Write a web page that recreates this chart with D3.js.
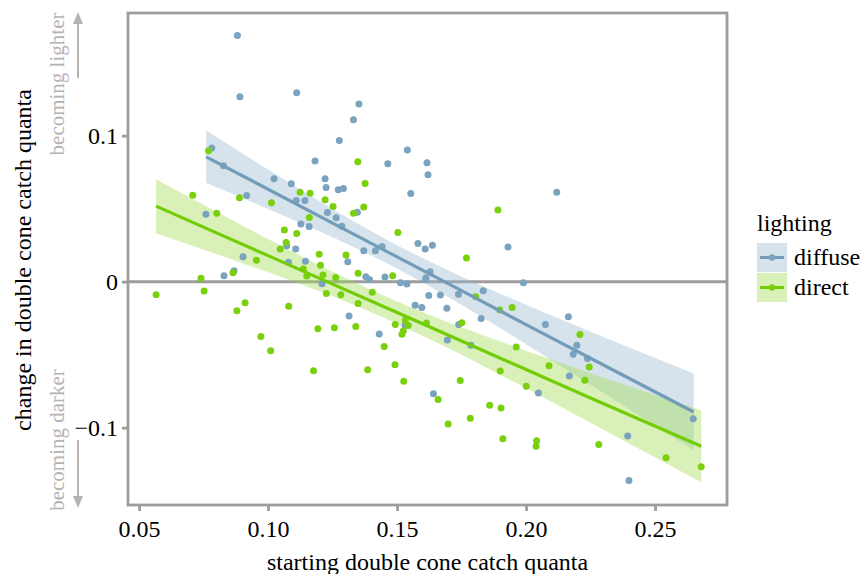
<!DOCTYPE html>
<html>
<head>
<meta charset="utf-8">
<script src="https://cdn.jsdelivr.net/npm/d3@7"></script>
<style>
  body { margin: 0; background: #fff; }
  text { font-family: "Liberation Serif", "Times New Roman", serif; }
</style>
</head>
<body>
<svg id="chart" width="861" height="574"></svg>
<script>
// data: [starting quanta, change in quanta]
var diffusePts = [
  [0.0881,0.1686],[0.0891,0.1266],[0.1111,0.1293],[0.1352,0.1216],[0.1331,0.1108],[0.1276,0.0967],
  [0.1540,0.0901],[0.1616,0.0814],[0.1620,0.0732],[0.1464,0.0807],[0.1182,0.0827],[0.0782,0.0916],
  [0.0827,0.0793],[0.1023,0.0704],[0.1090,0.0670],[0.1221,0.0704],[0.1225,0.0645],[0.1272,0.0629],
  [0.1292,0.0638],[0.0917,0.0590],[0.1109,0.0556],[0.1143,0.0556],[0.1553,0.0604],[0.0759,0.0462],
  [0.1230,0.0474],[0.1264,0.0437],[0.1346,0.0476],[0.1127,0.0394],[0.1159,0.0378],[0.1286,0.0380],
  [0.1442,0.0241],[0.1416,0.0211],[0.1371,0.0211],[0.1581,0.0262],[0.1609,0.0223],[0.1072,0.0245],
  [0.1107,0.0223],[0.0903,0.0170],[0.1079,0.0132],[0.1145,0.0140],[0.1309,0.0136],[0.0868,0.0074],
  [0.0829,0.0040],[0.1209,-0.0015],[0.1379,0.0033],[0.1393,0.0015],[0.1453,0.0031],[0.1513,-0.0008],
  [0.1538,-0.0017],[0.1611,0.0015],[0.1623,-0.0095],[0.1570,-0.0161],[0.1596,-0.0177],[0.1314,-0.0236],
  [0.1431,-0.0358],[0.1531,-0.0298],[0.2119,0.0613],[0.1637,0.0250],[0.1930,0.0238],[0.1628,0.0067],
  [0.1612,0.0026],[0.1990,-0.0008],[0.1834,-0.0063],[0.1668,-0.0092],[0.1738,-0.0086],[0.1693,-0.0182],
  [0.1826,-0.0252],[0.1739,-0.0293],[0.1695,-0.0399],[0.1786,-0.0435],[0.2164,-0.0241],[0.2075,-0.0293],
  [0.2197,-0.0435],[0.2183,-0.0497],[0.2238,-0.0526],[0.2168,-0.0647],[0.2048,-0.0762],[0.1641,-0.0768],
  [0.2394,-0.1058],[0.2648,-0.0940],[0.2399,-0.1362]
];
var directPts = [
  [0.0769,0.0896],[0.1348,0.0821],[0.1376,0.0673],[0.0708,0.0592],[0.0889,0.0574],[0.1013,0.0540],
  [0.1124,0.0613],[0.1163,0.0606],[0.1221,0.0560],[0.1252,0.0515],[0.1371,0.0512],[0.1331,0.0469],
  [0.0801,0.0469],[0.1160,0.0440],[0.1503,0.0337],[0.1063,0.0353],[0.1111,0.0330],[0.1070,0.0268],
  [0.1047,0.0223],[0.1198,0.0188],[0.1302,0.0182],[0.0955,0.0147],[0.1203,0.0113],[0.1137,0.0086],
  [0.1150,0.0038],[0.1213,0.0045],[0.1262,0.0029],[0.1349,0.0058],[0.1483,0.0040],[0.0864,0.0060],
  [0.0740,0.0024],[0.0566,-0.0090],[0.0752,-0.0065],[0.0911,-0.0145],[0.0879,-0.0200],[0.1080,-0.0168],
  [0.1226,-0.0081],[0.1282,-0.0090],[0.1404,-0.0072],[0.1349,-0.0149],[0.1493,-0.0293],[0.1532,-0.0264],
  [0.1543,-0.0300],[0.1524,-0.0339],[0.1519,-0.0360],[0.1614,-0.0284],[0.1193,-0.0323],[0.1257,-0.0316],
  [0.1340,-0.0307],[0.0972,-0.0375],[0.1010,-0.0474],[0.1450,-0.0444],[0.1492,-0.0570],[0.1176,-0.0611],
  [0.1386,-0.0604],[0.1526,-0.0682],[0.1891,0.0490],[0.1769,0.0161],[0.1805,-0.0104],[0.1898,-0.0195],
  [0.1946,-0.0177],[0.1751,-0.0282],[0.1962,-0.0447],[0.2209,-0.0362],[0.2245,-0.0584],[0.2089,-0.0577],
  [0.2228,-0.0675],[0.1900,-0.0613],[0.2001,-0.0716],[0.1745,-0.0677],[0.1659,-0.0807],[0.1859,-0.0846],
  [0.1903,-0.0866],[0.1784,-0.0935],[0.1698,-0.0976],[0.1910,-0.1077],[0.2041,-0.1090],[0.2039,-0.1127],
  [0.2282,-0.1115],[0.2543,-0.1207],[0.2679,-0.1268]
];

// fitted lines and confidence bands, read at a few x positions
var diffuseFitX  = [0.076, 0.100, 0.125, 0.150, 0.175, 0.200, 0.225, 0.265];
var diffuseFit   = [0.0855, 0.0633, 0.0401, 0.0170, -0.0062, -0.0294, -0.0525, -0.0893];
var diffuseLower = [0.0675, 0.0498, 0.0304, 0.0090, -0.0159, -0.0429, -0.0707, -0.1156];
var diffuseUpper = [0.1035, 0.0768, 0.0498, 0.0250, 0.0035, -0.0159, -0.0343, -0.0630];

var directFitX  = [0.0566, 0.080, 0.100, 0.125, 0.150, 0.175, 0.200, 0.225, 0.2679];
var directFit   = [0.0517, 0.0334, 0.0178, -0.0017, -0.0212, -0.0407, -0.0602, -0.0797, -0.1128];
var directLower = [0.0332, 0.0189, 0.0064, -0.0101, -0.0288, -0.0501, -0.0731, -0.0967, -0.1375];
var directUpper = [0.0702, 0.0479, 0.0292, 0.0067, -0.0136, -0.0313, -0.0473, -0.0627, -0.0881];

var xTicks = [0.05, 0.10, 0.15, 0.20, 0.25];
var yTicks = [-0.1, 0, 0.1];
var yTickLabels = ["\u22120.1", "0", "0.1"];
var groups = ["diffuse", "direct"];

var colPt   = {diffuse: "#7aa3bf", direct: "#7bd00e"};
var colLine = {diffuse: "#729cb8", direct: "#72cc06"};
var colBand = {diffuse: "#98b9cf", direct: "#a0dc4e"};

var svg = d3.select("#chart");
var margin = {top: 13, right: 134, bottom: 69, left: 128};
var W = 861, H = 574;

var x = d3.scaleLinear().domain([0.0457, 0.2779]).range([margin.left, W - margin.right]);
var y = d3.scaleLinear().domain([-0.153, 0.184]).range([H - margin.bottom, margin.top]);

var grey = "#9d9d9d";

// zero line
svg.append("line")
  .attr("x1", x.range()[0]).attr("x2", x.range()[1])
  .attr("y1", y(0)).attr("y2", y(0))
  .attr("stroke", grey).attr("stroke-width", 3);

function bandData(xs, lo, hi) {
  return xs.map(function(d, i) { return {x: d, lo: lo[i], hi: hi[i]}; });
}
var area = d3.area().curve(d3.curveMonotoneX)
  .x(function(d) { return x(d.x); })
  .y0(function(d) { return y(d.lo); })
  .y1(function(d) { return y(d.hi); });
var line = d3.line()
  .x(function(d) { return x(d[0]); })
  .y(function(d) { return y(d[1]); });

svg.append("path").datum(bandData(diffuseFitX, diffuseLower, diffuseUpper))
  .attr("d", area).attr("fill", colBand.diffuse).attr("fill-opacity", 0.4);
svg.append("path").datum(bandData(directFitX, directLower, directUpper))
  .attr("d", area).attr("fill", colBand.direct).attr("fill-opacity", 0.4);

// points
svg.append("g").selectAll("circle").data(diffusePts).enter().append("circle")
  .attr("cx", function(d) { return x(d[0]); })
  .attr("cy", function(d) { return y(d[1]); })
  .attr("r", 3.5).attr("fill", colPt.diffuse);
svg.append("g").selectAll("circle").data(directPts).enter().append("circle")
  .attr("cx", function(d) { return x(d[0]); })
  .attr("cy", function(d) { return y(d[1]); })
  .attr("r", 3.5).attr("fill", colPt.direct);

// fit lines
svg.append("path").datum(d3.zip(diffuseFitX, diffuseFit))
  .attr("d", line).attr("fill", "none").attr("stroke", colLine.diffuse).attr("stroke-width", 3.2);
svg.append("path").datum(d3.zip(directFitX, directFit))
  .attr("d", line).attr("fill", "none").attr("stroke", colLine.direct).attr("stroke-width", 3.2);

// panel border
svg.append("rect")
  .attr("x", x.range()[0]).attr("y", y.range()[1])
  .attr("width", x.range()[1] - x.range()[0])
  .attr("height", y.range()[0] - y.range()[1])
  .attr("fill", "none").attr("stroke", grey).attr("stroke-width", 2.8);

// axes
var xAxis = svg.append("g")
  .attr("transform", "translate(0," + y.range()[0] + ")")
  .call(d3.axisBottom(x).tickValues(xTicks).tickFormat(d3.format(".2f")).tickSize(6).tickPadding(9));
var yAxis = svg.append("g")
  .attr("transform", "translate(" + x.range()[0] + ",0)")
  .call(d3.axisLeft(y).tickValues(yTicks).tickFormat(function(d, i) { return yTickLabels[i]; }).tickSize(6).tickPadding(4));
[xAxis, yAxis].forEach(function(g) {
  g.select(".domain").remove();
  g.selectAll(".tick line").attr("stroke", grey).attr("stroke-width", 2.8);
  g.selectAll(".tick text").attr("fill", "#000").style("font-size", "24px")
    .style("font-family", '"Liberation Serif", "Times New Roman", serif');
});

// axis titles
svg.append("text")
  .attr("x", (x.range()[0] + x.range()[1]) / 2).attr("y", 570)
  .attr("text-anchor", "middle").style("font-size", "24px")
  .text("starting double cone catch quanta");
svg.append("text")
  .attr("transform", "translate(31,260) rotate(-90)")
  .attr("text-anchor", "middle").style("font-size", "24px")
  .text("change in double cone catch quanta");

// direction notes
var noteCol = "#b3b3b3";
svg.append("text")
  .attr("transform", "translate(64,84) rotate(-90)")
  .attr("text-anchor", "middle").style("font-size", "21px").attr("fill", noteCol)
  .text("becoming lighter");
svg.append("text")
  .attr("transform", "translate(64,440) rotate(-90)")
  .attr("text-anchor", "middle").style("font-size", "21px").attr("fill", noteCol)
  .text("becoming darker");

svg.append("line").attr("x1", 78).attr("x2", 78).attr("y1", 78).attr("y2", 22)
  .attr("stroke", noteCol).attr("stroke-width", 2);
svg.append("path").attr("d", "M78,12 L73,24 L83,24 Z").attr("fill", noteCol);
svg.append("line").attr("x1", 78).attr("x2", 78).attr("y1", 440).attr("y2", 498)
  .attr("stroke", noteCol).attr("stroke-width", 2);
svg.append("path").attr("d", "M78,508 L73,496 L83,496 Z").attr("fill", noteCol);

// legend
var leg = svg.append("g").attr("transform", "translate(757,0)");
leg.append("text").attr("x", 0).attr("y", 231).style("font-size", "24px").text("lighting");
groups.forEach(function(g, i) {
  var top = 243 + i * 30;
  leg.append("rect").attr("x", 0).attr("y", top).attr("width", 30).attr("height", 29)
    .attr("fill", colBand[g]).attr("fill-opacity", 0.4);
  leg.append("line").attr("x1", 3).attr("x2", 27).attr("y1", top + 14.5).attr("y2", top + 14.5)
    .attr("stroke", colLine[g]).attr("stroke-width", 3);
  leg.append("circle").attr("cx", 15).attr("cy", top + 14.5).attr("r", 3.2).attr("fill", colPt[g]);
  leg.append("text").attr("x", 37).attr("y", top + 22).style("font-size", "24px").text(g);
});
</script>
</body>
</html>
